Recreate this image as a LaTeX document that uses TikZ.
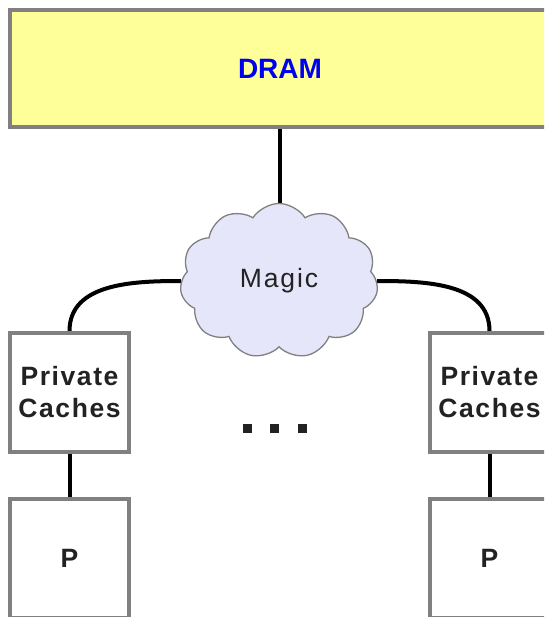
\documentclass[tikz,border=0pt]{standalone}
\usepackage{fontspec}
\setmainfont{Liberation Sans}
\usetikzlibrary{shapes.symbols,backgrounds}

\definecolor{dramfill}{RGB}{255,255,153}
\definecolor{dramtext}{RGB}{0,0,240}
\definecolor{boxedge}{RGB}{128,128,128}
\definecolor{cloudfill}{RGB}{230,230,250}
\definecolor{inktext}{RGB}{34,34,34}

\tikzset{
  unitbox/.style={draw=boxedge, line width=4pt, fill=white, minimum width=119pt,
    minimum height=119pt, inner sep=0pt, align=center, text=inktext,
    font=\bfseries\fontsize{26.5}{32}\selectfont\addfontfeatures{LetterSpace=6}},
  memory/.style={draw=boxedge, line width=4pt, fill=dramfill, minimum width=540pt,
    minimum height=117pt, inner sep=0pt, text=dramtext,
    font=\bfseries\fontsize{28}{32}\selectfont},
  magiccloud/.style={cloud, cloud puffs=11, cloud puff arc=115, draw=boxedge,
    line width=1.3pt, fill=cloudfill, minimum width=198pt, minimum height=155pt,
    inner sep=0pt, text=inktext,
    font=\fontsize{26.5}{30}\selectfont\addfontfeatures{LetterSpace=7}},
  wire/.style={line width=4pt, black},
  dotmark/.style={fill=inktext, minimum size=9pt, inner sep=0pt}
}

\begin{document}
\begin{tikzpicture}[x=1pt, y=-1pt]
  \useasboundingbox (0,0) rectangle (544,617);
  \clip (0,0) rectangle (544,617);

  % memory, interconnect, and the two visible cores
  \node[memory] (dram) at (280,68.5) {DRAM};
  \node[magiccloud] (magic) at (279,281) {Magic};

  \node[unitbox] (lcache) at (69.5,392.5) {Private\\Caches};
  \node[unitbox] (lproc)  at (69.5,558.5) {P};
  \node[unitbox] (rcache) at (489.5,392.5) {Private\\Caches};
  \node[unitbox] (rproc)  at (489.5,558.5) {P};

  % ellipsis between the cores
  \node[dotmark] (d1) at (247.5,428.5) {};
  \node[dotmark] (d2) at (274.5,428.5) {};
  \node[dotmark] (d3) at (302.5,428.5) {};

  \begin{pgfonlayer}{background}
    \fill[white] (0,0) rectangle (544,617);
    \draw[wire] (dram.south) -- (dram.south |- magic.north);
    \draw[wire] (magic.west) to[out=180, in=90] (lcache.north);
    \draw[wire] (magic.east) to[out=0, in=90] (rcache.north);
    \draw[wire] (lcache.south) -- (lproc.north);
    \draw[wire] (rcache.south) -- (rproc.north);
  \end{pgfonlayer}
\end{tikzpicture}
\end{document}
